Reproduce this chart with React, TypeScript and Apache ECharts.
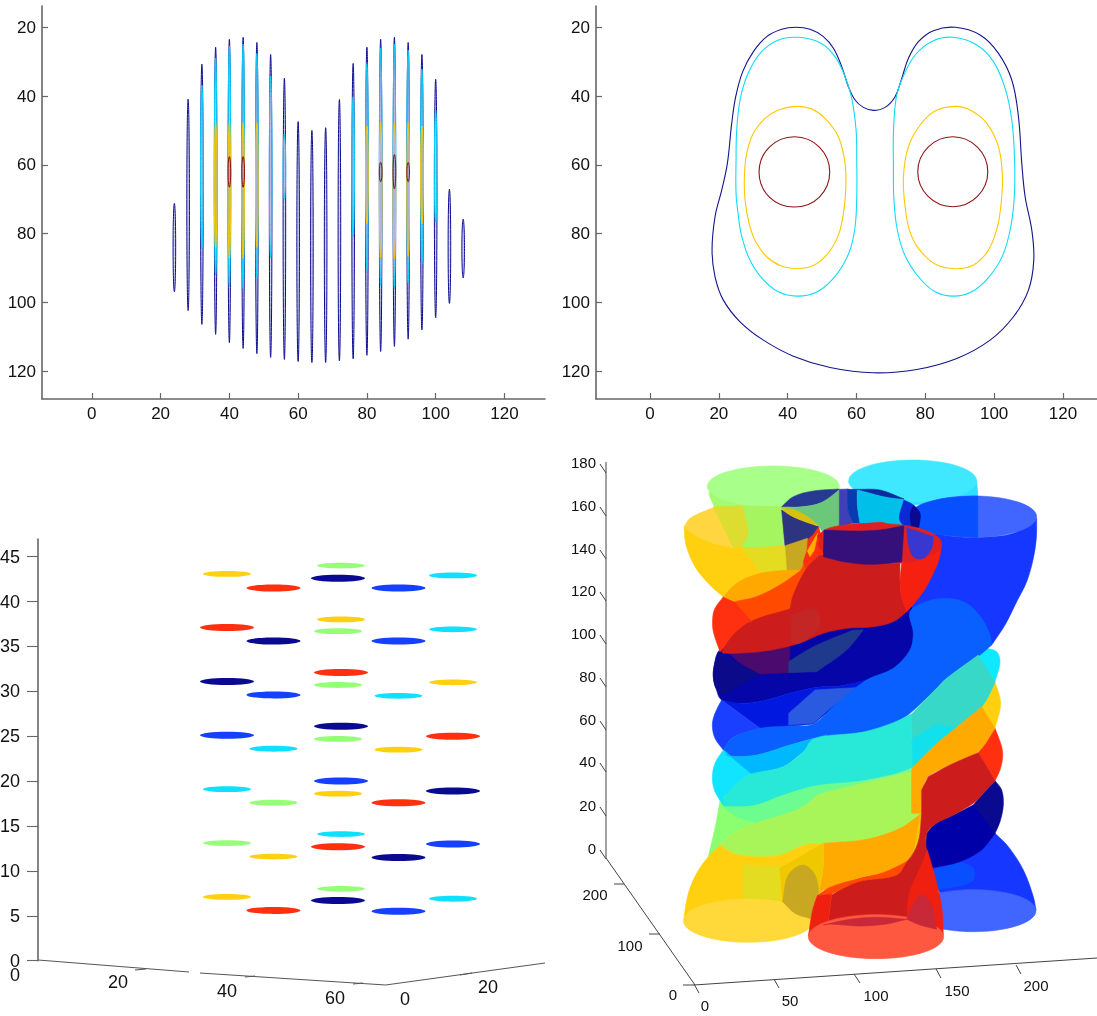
import React, { useEffect, useRef } from "react";
import * as echarts from "echarts";

const FONT = '"Liberation Sans", Arial, sans-serif';
const AXIS = "#666666";

// ---------- Panel 1: contour slices, [x, top, bottom] per level ----------
const sliceOuter = [
  [24, 71.2, 96.9], [28, 40.9, 102.4], [32, 30.7, 106.4], [36, 25.8, 109.3], [40, 23.5, 111.7], [44, 22.9, 113.4],
  [48, 24.4, 114.9], [52, 27.9, 116], [56, 34.8, 116.6], [60, 47.4, 117.2], [64, 50, 117.5], [68, 49.2, 117.5],
  [72, 41, 117], [76, 30.5, 116.4], [80, 25.8, 115.4], [84, 23.5, 114.3], [88, 22.9, 112.8], [92, 24.4, 110.7],
  [96, 27.9, 108], [100, 35.1, 104.5], [104, 67.1, 100.3], [108, 75.8, 92.9],
];
const sliceCyan = [
  [32, 36.8, 84.3], [36, 29, 92], [40, 25.4, 95.5], [44, 24.9, 96], [48, 27.6, 93], [52, 34.2, 86.9], [56, 51.1, 70],
  [76, 40.2, 80.9], [80, 30.5, 90.6], [84, 26.1, 95], [88, 24.9, 96], [92, 26.6, 94.3], [96, 32.1, 88.7], [100, 44.3, 76.8],
];
const sliceYellow = [
  [36, 47.7, 84], [40, 47.7, 87.2], [44, 47.7, 87.2], [48, 47.7, 84],
  [80, 48.7, 77.2], [84, 47.7, 87], [88, 47.7, 87.2], [92, 47.7, 86.7], [96, 48.7, 77.2],
];
const sliceRed = [[40, 57.6, 66.5], [44, 57.6, 66.5], [84, 59.3, 64.9], [88, 57, 67], [92, 59.3, 64.9]];

const xTicks = [0, 20, 40, 60, 80, 100, 120];
const yTicks = [20, 40, 60, 80, 100, 120];

// ---------- Panel 2: contour lines, picture readings ----------
const read = (p: number[]) => [(p[0] - 180) / 10.32, 20 + (p[1] - 82) / 10.31];
const lineOuter = [[850,331],[820,322],[795,300],[775,260],[755,200],[730,145],[700,110],[660,88],[617,82],[575,88],[530,110],[490,155],[458,215],[437,290],[425,370],[412,490],[395,570],[375,650],[366,750],[375,830],[400,900],[450,965],[520,1020],[610,1068],[720,1102],[850,1118],[980,1108],[1100,1075],[1200,1020],[1270,950],[1315,870],[1331,780],[1325,690],[1305,590],[1295,490],[1285,350],[1265,240],[1225,160],[1170,105],[1095,82],[1030,92],[985,125],[955,175],[935,235],[915,290],[885,322]];
const lineCyanL = [[622,112],[560,122],[510,160],[472,225],[450,300],[440,390],[438,480],[438,580],[444,640],[453,700],[475,770],[512,830],[565,875],[622,888],[682,875],[738,825],[778,755],[795,680],[800,590],[800,480],[798,390],[785,295],[765,230],[735,170],[690,128]];
const lineCyanR = [[1090,112],[1030,122],[975,165],[935,240],[918,295],[910,400],[910,500],[911,590],[920,680],[942,760],[985,830],[1035,875],[1090,888],[1145,875],[1197,830],[1238,765],[1262,680],[1273,580],[1273,470],[1265,360],[1245,265],[1210,185],[1160,135]];
const lineYellowL = [[620,319],[565,330],[525,355],[490,400],[470,460],[463,530],[465,600],[477,670],[497,725],[530,770],[572,797],[620,805],[668,797],[712,762],[745,705],[760,640],[767,570],[765,490],[745,410],[705,355],[665,327]];
const lineYellowR = [[1095,319],[1035,333],[990,375],[955,440],[940,530],[945,620],[958,690],[985,745],[1035,792],[1095,806],[1150,795],[1195,750],[1222,680],[1233,610],[1237,530],[1225,440],[1190,370],[1140,330]];
const lineRedL = [[613,410],[688,441],[719,516],[688,591],[613,621],[538,591],[507,516],[538,441]];
const lineRedR = [[1088,410],[1162,441],[1193,515],[1162,589],[1088,620],[1014,589],[983,515],[1014,441]];

// ---------- Panel 3: stacked slices, [projected x, height, level] ----------
const levelColor = ["#0a0a90", "#1540ff", "#10e0ff", "#96ff78", "#ffd010", "#ff3010"];
const discs = [
  [227, 43.07, 4], [227, 37.1, 5], [227, 31.1, 0], [227, 25.1, 1], [227, 19.1, 2], [227, 13.1, 3], [227, 7.1, 4],
  [273.5, 41.5, 5], [273.5, 35.6, 0], [273.5, 29.6, 1], [273.5, 23.6, 2], [273.5, 17.6, 3], [273.5, 11.6, 4], [273.5, 5.6, 5],
  [341, 44, 3], [341, 38, 4], [341, 32.1, 5], [341, 26.1, 0], [341, 20, 1], [341, 14.1, 2], [341, 8, 3],
  [338, 42.6, 0], [338, 36.7, 3], [338, 30.7, 3], [338, 24.7, 3], [338, 18.6, 4], [338, 12.7, 5], [338, 6.7, 0],
  [398.5, 41.5, 1], [398.5, 35.6, 1], [398.5, 29.5, 2], [398.5, 23.5, 4], [398.5, 17.6, 5], [398.5, 11.5, 0], [398.5, 5.5, 1],
  [453, 42.9, 2], [453, 36.9, 2], [453, 31, 4], [453, 25, 5], [453, 18.9, 0], [453, 13, 1], [453, 6.9, 2],
];
const zTicks3 = [0, 5, 10, 15, 20, 25, 30, 35, 40, 45];
const floor3Labels = [["0", 15, 975], ["20", 118, 982], ["40", 227, 991], ["60", 335, 998], ["0", 405, 999], ["20", 488, 987]];
const floor3Lines = [[38,960,189,972],[200,973,385.6,985],[385.6,985,545,963],[135,970,146,969],[245,977,255,976],[353,984,363,983],[460,975,472,973]];

// ---------- Panel 4: projected outlines; a third value 1 marks a sharp corner ----------
const A = 0, B = 585, C = 1035;
type Region = { c: string; dy: number; p?: number[][]; e?: number[] };
const R = (c: string, dy: number, p: number[][]): Region => ({ c, dy, p });
const E = (c: string, dy: number, cx: number, cy: number, rx: number, ry: number): Region => ({ c, dy, e: [cx, cy, rx, ry] });

const backTubes: Region[] = [
  R("#a5fb70", A, [[90,110],[200,150],[305,155],[320,275],[185,280],[140,230],[110,170]]),
  E("#a8ff8a", A, 280, 94, 198, 61),
  R("#2ce0ff", A, [[506,80,1],[890,80,1],[895,135,1],[700,150,1],[530,110,1]]),
  E("#40e8ff", A, 698, 78, 192, 63),
  R("#ffd010", A, [[12,215,1],[18,270],[45,335],[85,385],[130,425],[165,440,1],[230,425],[300,395],[380,300,1],[415,215,1],[300,160,1],[100,160,1]]),
  R("#ffd640", A, [[12,215,1],[30,190],[65,172],[105,156,1],[130,205],[160,278,1],[100,265],[45,240]]),
  R("#dddc30", A, [[100,155,1],[190,152,1],[205,230],[185,270],[160,278,1],[130,215]]),
  R("#a5f560", A, [[190,153,1],[305,155,1],[315,272,1],[185,277,1],[205,235]]),
  R("#e3dc20", A, [[185,280,1],[318,275,1],[322,345,1],[250,355],[215,315]]),
  R("#ff3010", A, [[316,270,1],[415,212,1],[445,315,1],[375,350,1]]),
  R("#263a94", A, [[305,155,1],[340,125],[400,108],[478,102,1],[450,130],[410,147],[360,155]]),
  R("#6cc878", A, [[305,157,1],[360,156],[420,145],[478,105,1],[480,235,1],[430,235,1],[415,212,1],[360,175]]),
  R("#2d3580", A, [[305,165,1],[340,187],[415,215,1],[385,250],[315,272,1]]),
  R("#d8c010", A, [[305,160,1],[345,165],[390,190],[415,212,1],[390,205],[340,185]]),
  R("#c8a820", A, [[316,272,1],[382,250,1],[375,345,1],[322,348,1]]),
  R("#3f3fb8", A, [[478,103,1],[505,102,1],[505,170],[520,205,1],[478,215,1]]),
  R("#0a3ab0", A, [[503,103,1],[532,103,1],[532,150],[540,205,1],[520,205,1],[505,170]]),
  R("#00bfe8", A, [[532,105,1],[672,135,1],[670,210,1],[580,222],[540,205,1],[532,150]]),
  R("#0a2aa0", A, [[532,103,1],[600,105],[672,132,1],[620,125],[560,110]]),
];

const lowBack: Region[] = [
  R("#1537ff", C, [[750,205,1],[840,185],[905,150],[945,100,1],[985,140],[1030,210],[1060,290],[1068,330,1],[900,340,1],[780,280,1]]),
  R("#0850ff", C, [[755,210,1],[840,185,1],[880,205],[875,245],[770,270,1]]),
  E("#4066ff", C, 880, 332, 188, 63),
  R("#0a0a90", C, [[880,15,1],[905,-15],[945,-58,1],[965,-30],[970,15],[960,65],[945,100,1],[905,150,1],[860,90,1]]),
  R("#0000a8", C, [[740,100,1],[765,72],[820,45],[880,15,1],[945,100,1],[905,150],[840,185],[750,205,1],[738,140]]),
  R("#ff3010", B, [[945,235,1],[965,290],[968,320],[960,360],[945,392,1],[895,308,1]]),
  R("#ffd010", B, [[905,170,1],[945,95,1],[962,160],[945,235,1]]),
  R("#10e8ff", B, [[890,20,1],[920,-5,1],[950,5],[960,35],[948,85],[930,130],[905,170,1]]),
];

const bigBlue: Region[] = [
  R("#1537ff", A, [[690,220,1],[790,240],[890,247],[1000,235],[1070,190,1],[1069,250],[1060,310],[1040,380],[1010,440],[975,510],[935,570,1],[800,640,1],[690,640,1],[660,430,1]]),
  E("#4066ff", A, 880, 185, 190, 62),
  R("#0850ff", A, [[893,123,1],[820,127],[760,137],[710,155],[692,180],[710,215],[760,235],[820,243],[893,247,1]]),
  R("#0a2ad8", A, [[672,135,1],[700,150],[720,175],[716,218,1],[672,215,1],[658,190]]),
  R("#0a0a90", A, [[700,150,1],[720,175],[716,218,1],[695,215,1],[690,180]]),
];

const bands: Region[] = [
  // navy
  R("#0505a8", B, [[115,5],[103,45],[100,80],[108,115],[125,150],[185,160],[260,150],[330,130],[410,112],[480,108],[560,90],[620,70],[665,35],[690,5],[700,-60],[695,-130,1],[180,-60,1]]),
  R("#0a0a8a", B, [[115,5,1],[103,45],[100,80],[108,115],[130,135,1],[240,72,1]]),
  R("#4a0a6e", B, [[140,0,1],[230,-5,1],[330,-10,1],[326,68,1],[240,72,1],[175,35]]),
  R("#1f3a8c", B, [[326,35,1],[400,-10],[520,-60,1],[550,-60,1],[500,0],[410,65,1],[326,68,1]]),
  // blue
  R("#0018e0", B, [[125,150,1],[185,160],[260,150],[330,130],[410,112],[480,108],[560,90,1],[470,165,1],[400,222,1],[325,230,1],[240,235,1]]),
  R("#1a3fff", B, [[125,150,1],[105,190],[97,225],[105,265],[130,300,1],[160,262],[240,235,1]]),
  R("#2a5ae0", B, [[326,190,1],[405,120,1],[545,112,1],[470,160],[400,220,1],[326,225,1]]),
  R("#0a60ff", B, [[130,300,1],[160,262],[240,235],[325,228],[400,222],[470,160],[560,90],[640,55],[690,0],[700,-50],[690,-115],[740,-145],[800,-155],[860,-140],[905,-95],[930,-45],[935,-15,1],[900,15],[800,85],[770,115],[690,190],[640,222],[560,250],[420,262],[330,285],[230,315],[145,318]]),
  // green back, then main green
  R("#7cf88c", B, [[145,450,1],[700,340,1],[732,350,1],[732,520,1],[145,540,1]]),
  R("#8cff70", C, [[120,0,1],[108,70],[85,170,1],[120,135],[160,100],[225,70,1],[190,55],[135,25]]),
  R("#6cfc90", C, [[120,0,1],[135,25],[190,58],[250,65],[300,50],[385,5],[415,-20],[530,-50],[695,-100,1],[695,-150,1],[130,-60,1]]),
  R("#a8f55a", C, [[120,135,1],[160,100],[225,70],[290,50],[350,30],[385,10],[415,-15],[530,-45],[695,-85,1],[725,-60,1],[725,40,1],[660,85],[560,118],[430,130],[375,135],[300,165],[220,170],[160,160]]),
  // cyan and teal
  R("#10e4ff", B, [[130,300,1],[105,340],[97,385],[105,425],[130,465,1],[130,440,1],[215,370,1]]),
  R("#00b8ff", B, [[135,305,1],[145,318],[230,315],[330,285],[440,255,1],[365,310],[310,350],[215,372,1]]),
  R("#38d8c8", B, [[692,195,1],[770,115],[800,85],[895,15,1],[945,95,1],[905,170],[830,232],[760,290],[700,352,1]]),
  R("#12e0ec", B, [[692,270,1],[770,222,1],[830,232,1],[760,290],[700,352,1],[692,340,1]]),
  R("#28e8d8", B, [[130,445,1],[175,395],[215,372],[310,350],[370,305],[402,266],[550,246],[640,218],[694,192,1],[697,352,1],[640,372],[530,393],[410,405],[320,430],[220,465],[130,468,1]]),
  // orange
  R("#ffaa00", B, [[697,352,1],[760,290],[830,232],[905,170,1],[945,235,1],[895,305],[810,345],[745,380],[728,420],[725,490,1],[695,490,1],[695,365,1]]),
  R("#ffaa00", C, [[430,130,1],[560,118],[660,85],[725,40,1],[715,125],[680,185],[610,220],[530,240],[430,270],[415,285,1],[430,200]]),
  R("#f0c800", C, [[718,60,1],[725,40,1],[716,125],[700,165,1]]),
  // yellow, front
  R("#ffd010", C, [[120,135,1],[85,170],[50,220],[25,280],[12,350,1],[200,330,1],[310,330,1],[320,240,1],[430,130,1],[375,135],[300,165],[220,170],[160,160]]),
  R("#e3dc20", C, [[190,195,1],[300,200,1],[300,305,1],[190,298,1]]),
  R("#f0c800", C, [[300,205,1],[430,130,1],[430,200],[415,285,1],[395,355,1],[308,305,1]]),
  E("#ffd83a", C, 205, 362, 195, 65),
  R("#c8a820", C, [[308,305,1],[325,225],[370,195],[405,225],[415,285],[395,357,1],[345,340]]),
  // red, lower
  R("#cc1c1c", C, [[745,-70,1],[810,-105],[895,-142,1],[945,-58,1],[905,-15],[880,10],[820,45],[765,72],[740,100],[738,140,1],[745,200,1],[700,290,1],[685,358,1],[580,375,1],[445,365,1],[455,285,1],[530,240],[610,220],[680,185],[715,125],[725,40,1],[725,-30,1]]),
  R("#ff4a00", C, [[412,287,1],[450,262],[530,238],[610,218],[680,185,1],[650,225],[535,245],[455,282,1]]),
  R("#f02010", C, [[412,287,1],[455,282,1],[445,365,1],[420,375,1],[385,408,1],[398,330]]),
  R("#f02010", C, [[680,358,1],[688,280],[720,205],[742,150,1],[765,230],[785,320],[790,405,1],[770,385,1]]),
  E("#ff5840", C, 588, 410, 203, 66),
  R("#c82838", C, [[430,375,1],[510,358],[590,352],[680,358,1],[620,372],[540,378],[450,372]]),
  R("#c82838", C, [[680,358,1],[695,320],[725,285],[755,315],[770,388,1],[720,375]]),
];

const redTop: Region[] = [
  R("#ff3010", A, [[120,590,1],[100,530],[98,490],[105,460],[130,425,1],[165,440,1],[260,390,1],[370,340,1],[210,500,1]]),
  R("#ffa800", A, [[130,425,1],[170,385],[230,358],[290,348],[365,345,1],[300,392],[230,425],[165,440,1]]),
  R("#ff4a00", A, [[165,440,1],[230,425],[300,390],[365,345,1],[378,300,1],[425,340,1],[385,425,1],[340,475,1],[215,498,1]]),
  R("#ff3010", A, [[380,290,1],[413,235,1],[430,305,1],[420,335,1],[380,345,1],[370,320,1]]),
  R("#ffb000", A, [[382,288,1],[413,235,1],[403,285,1],[390,305,1]]),
  R("#cc1c1c", A, [[125,590,1],[160,540],[215,498],[330,462,1],[340,420],[380,340],[420,300,1],[500,322,1],[660,322,1],[660,380],[665,430],[680,470,1],[640,500],[580,515],[500,520],[430,535],[370,560],[300,580],[220,592],[130,595]]),
  R("#f52010", A, [[665,325,1],[720,312],[785,268,1],[778,310],[760,355],[730,410],[690,460],[680,470,1],[665,430],[660,380]]),
  R("#c42626", A, [[335,480,1],[400,460],[422,500],[400,540],[340,565]]),
  E("#e02020", A, 600, 267, 185, 61),
  R("#e02020", A, [[412,242,1],[440,222],[480,212],[560,205],[620,208],[620,280,1],[430,280,1]]),
  R("#35107a", A, [[432,225,1],[530,228],[600,225],[672,212,1],[665,320,1],[580,328],[500,322],[430,305,1]]),
  R("#3838d0", A, [[680,218,1],[760,245,1],[755,280],[730,310],[700,305],[685,265]]),
];

const regions: Region[] = [...backTubes, ...lowBack, ...bigBlue, ...bands, ...redTop];

const zTicks4 = [["180",462],["160",505],["140",548],["120",590],["100",633],["80",676],["60",719],["40",761],["20",805],["0",848]] as const;
const floor4Labels = [["200",595,894],["100",630,945],["0",673,994],["0",705,1005],["50",790,1000],["100",876,995],["150",957,990],["200",1036,985]];
const floor4Lines = [[606,462,606,858],[606,858,695,985],[614,884,624,884],[649,934,660,934],[683,985,694,985],[694,985,1097,958],[694,984,699,993],[774,979,779,988],[854,974,860,983],[936,969,941,978],[1016,965,1021,974]];

const ellipseSlice = (rows: number[][], color: string) => ({
  type: "custom" as const,
  xAxisIndex: 0,
  yAxisIndex: 0,
  silent: true,
  data: rows,
  renderItem: (_: any, api: any) => {
    const cx = api.coord([api.value(0), (api.value(1) + api.value(2)) / 2]);
    const hi = api.coord([api.value(0), api.value(1)]);
    return {
      type: "ellipse",
      shape: { cx: cx[0], cy: cx[1], rx: 1.3, ry: Math.abs(cx[1] - hi[1]) },
      style: { fill: "rgba(170,170,225,0.55)", stroke: color, lineWidth: 1 },
    };
  },
});

// closed contour: one smooth loop through all its points
const contour = (pts: number[][], color: string, idx = 1) => {
  const values = pts.map(read);
  return {
    type: "custom" as const,
    xAxisIndex: idx,
    yAxisIndex: idx,
    silent: true,
    data: values,
    renderItem: (params: any, api: any) =>
      params.dataIndex === 0
        ? {
            type: "polygon",
            shape: { points: values.map((v) => api.coord(v)), smooth: 0.38 },
            style: { fill: "none", stroke: color, lineWidth: 1.1 },
          }
        : null,
  };
};

const valueAxis = (gridIndex: number, min: number, max: number, ticks: number[], extra: any = {}) => ({
  type: "value" as const,
  gridIndex,
  min,
  max,
  splitLine: { show: false },
  axisLine: { show: true, onZero: false, lineStyle: { color: AXIS, width: 1.6 } },
  axisTick: { show: true, inside: true, length: 6, customValues: ticks, lineStyle: { color: AXIS, width: 1.2 } },
  axisLabel: { customValues: ticks, color: "#111", fontFamily: FONT, fontSize: 17, margin: 6 },
  ...extra,
});

const hiddenAxis = (gridIndex: number, min: number, max: number, extra: any = {}) => ({
  type: "value" as const, gridIndex, min, max, show: false, ...extra,
});

const seg = (l: number[], color: string, w = 1) => ({
  type: "line", silent: true, shape: { x1: l[0], y1: l[1], x2: l[2], y2: l[3] }, style: { stroke: color, lineWidth: w },
});
const label = (t: string, x: number, y: number, size: number, align = "center") => ({
  type: "text", silent: true,
  style: { text: t, x, y, fill: "#111", font: `${size}px ${FONT}`, textAlign: align, textVerticalAlign: "middle" },
});

export default function App() {
  const ref = useRef<HTMLDivElement>(null);
  useEffect(() => {
    const chart = echarts.init(ref.current!, undefined, { renderer: "svg" });
    chart.setOption({
      animation: false,
      backgroundColor: "#ffffff",
      grid: [
        { left: 42, top: 6, width: 503, height: 393, outerBoundsMode: "none" },
        { left: 596, top: 6, width: 501, height: 393, outerBoundsMode: "none" },
        { left: 38, top: 539, width: 507, height: 421.7, outerBoundsMode: "none" },
        { left: 680, top: 455, width: 417, height: 561, outerBoundsMode: "none" },
      ],
      xAxis: [
        valueAxis(0, -14.5, 131.8, xTicks),
        valueAxis(1, -15.7, 129.9, xTicks),
        hiddenAxis(2, 38, 545),
        hiddenAxis(3, 0, 1251),
      ],
      yAxis: [
        valueAxis(0, 13.8, 128.1, yTicks, { inverse: true }),
        valueAxis(1, 13.8, 128.1, yTicks, { inverse: true }),
        {
          type: "value", gridIndex: 2, min: 0, max: 46.96,
          splitLine: { show: false },
          axisLine: { show: true, lineStyle: { color: AXIS, width: 1.6 } },
          axisTick: { show: true, inside: false, length: 11, customValues: zTicks3, lineStyle: { color: AXIS, width: 1.1 } },
          axisLabel: { customValues: zTicks3, color: "#111", fontFamily: FONT, fontSize: 18, margin: 18 },
        },
        hiddenAxis(3, 0, 1683, { inverse: true }),
      ],
      graphic: [
        ...floor3Lines.map((l) => seg(l, "#555", 1)),
        ...floor3Labels.map((l) => label(l[0] as string, l[1] as number, l[2] as number, 18)),
        ...floor4Lines.map((l) => seg(l, "#444", 1)),
        ...zTicks4.map((t) => seg([600, t[1] + 2, 606, t[1] + 11], "#444", 1)),
        ...zTicks4.map((t) => label(t[0], 596, t[1], 15, "right")),
        ...floor4Labels.map((l) => label(l[0] as string, l[1] as number, l[2] as number, 15)),
      ],
      series: [
        ellipseSlice(sliceOuter, "#0a0a90"),
        ellipseSlice(sliceCyan, "#00d8ff"),
        ellipseSlice(sliceYellow, "#ffc800"),
        ellipseSlice(sliceRed, "#8c0a0a"),
        contour(lineOuter, "#14148c"),
        contour(lineCyanL, "#10dcf8"),
        contour(lineCyanR, "#10dcf8"),
        contour(lineYellowL, "#ffc800"),
        contour(lineYellowR, "#ffc800"),
        contour(lineRedL, "#8c1414"),
        contour(lineRedR, "#8c1414"),
        {
          type: "custom",
          xAxisIndex: 2,
          yAxisIndex: 2,
          silent: true,
          data: discs,
          renderItem: (_: any, api: any) => {
            const p = api.coord([api.value(0), api.value(1)]);
            const lv = api.value(2);
            const wide = lv === 0 || lv === 1 || lv === 5;
            return {
              type: "ellipse",
              shape: { cx: p[0], cy: p[1], rx: wide ? 27 : 24, ry: wide ? 3.5 : 2.9 },
              style: { fill: levelColor[lv] },
            };
          },
        },
        {
          type: "custom",
          xAxisIndex: 3,
          yAxisIndex: 3,
          silent: true,
          clip: false,
          data: regions.map((r) => (r.p ? [r.p[0][0], r.p[0][1] + r.dy] : [r.e![0], r.e![1] + r.dy])),
          renderItem: (params: any, api: any) => {
            const r = regions[params.dataIndex];
            const style = { fill: r.c, stroke: r.c, lineWidth: 0.6 };
            if (r.e) {
              const c = api.coord([r.e[0], r.e[1] + r.dy]);
              const q = api.coord([r.e[0] + r.e[2], r.e[1] + r.dy + r.e[3]]);
              return { type: "ellipse", shape: { cx: c[0], cy: c[1], rx: q[0] - c[0], ry: q[1] - c[1] }, style };
            }
            const points: number[][] = [];
            for (const pt of r.p!) {
              const xy = api.coord([pt[0], pt[1] + r.dy]);
              points.push(xy);
              if (pt[2]) points.push(xy.slice());
            }
            return { type: "polygon", shape: { points, smooth: 0.34 }, style };
          },
        },
      ],
    });
    return () => chart.dispose();
  }, []);
  return <div ref={ref} style={{ position: "absolute", left: 0, top: 0, width: 1097, height: 1016, filter: "blur(0.35px)" }} />;
}
